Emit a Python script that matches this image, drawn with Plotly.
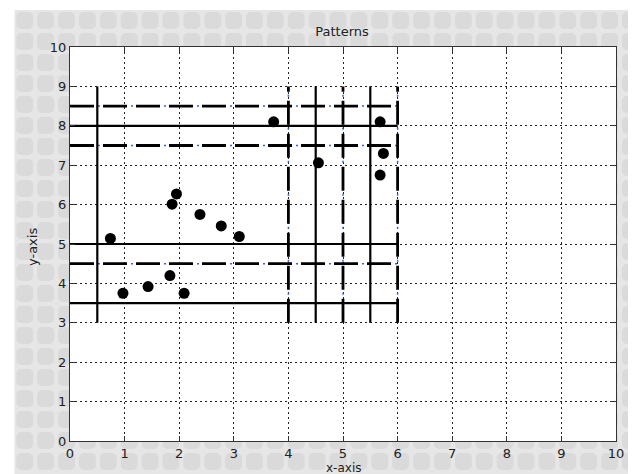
import base64
import plotly.graph_objects as go

# ---- data ----
x_points = [0.74, 0.97, 1.43, 1.83, 2.09, 1.87, 1.95, 2.38, 2.77, 3.10, 3.73, 4.55, 5.68, 5.74, 5.68]
y_points = [5.14, 3.75, 3.92, 4.20, 3.75, 6.01, 6.27, 5.75, 5.46, 5.19, 8.10, 7.06, 8.10, 7.30, 6.75]

vertical_solid_x = [0.5, 4.5, 5.5]
vertical_dashed_x = [4, 5, 6]
horizontal_solid_y = [3.5, 5, 8]
horizontal_dashed_y = [4.5, 7.5, 8.5]
vertical_span = [3, 9]
horizontal_span = [0, 6]
tick_values = list(range(0, 11))

FONT = "DejaVu Sans"


def vlines(xs, span):
    px, py = [], []
    for x in xs:
        px += [x, x, None]
        py += [span[0], span[1], None]
    return px, py


def hlines(ys, span):
    px, py = [], []
    for y in ys:
        px += [span[0], span[1], None]
        py += [y, y, None]
    return px, py


fig = go.Figure()

# blue dots inside gaps of dashed lines
for fn, vals, span in [(vlines, vertical_dashed_x, vertical_span), (hlines, horizontal_dashed_y, horizontal_span)]:
    px, py = fn(vals, span)
    fig.add_trace(go.Scatter(x=px, y=py, mode="lines", hoverinfo="skip",
                             line=dict(color="#3a5cff", width=1.5, dash="0px,28px,2px,3px")))

# dashed black lines
for fn, vals, span in [(vlines, vertical_dashed_x, vertical_span), (hlines, horizontal_dashed_y, horizontal_span)]:
    px, py = fn(vals, span)
    fig.add_trace(go.Scatter(x=px, y=py, mode="lines", hoverinfo="skip",
                             line=dict(color="black", width=2.8, dash="24px,9px")))

# solid black lines
for fn, vals, span in [(vlines, vertical_solid_x, vertical_span), (hlines, horizontal_solid_y, horizontal_span)]:
    px, py = fn(vals, span)
    fig.add_trace(go.Scatter(x=px, y=py, mode="lines", hoverinfo="skip",
                             line=dict(color="black", width=2.2)))

# points
fig.add_trace(go.Scatter(x=x_points, y=y_points, mode="markers",
                         marker=dict(color="black", size=11, line=dict(width=0))))

# page has an 8px body margin: size the figure so it fills the window exactly
OFF = 8
W, H = 636 - OFF, 474 - OFF
L, R, T, B = 70 - OFF, 17, 47 - OFF, 33
pw, ph = W - L - R, H - T - B

gx0, gy0 = 14 - OFF, 10 - OFF  # where the grey window background starts
svg_w, svg_h = W - gx0, H - gy0
svg = (
    f'<svg xmlns="http://www.w3.org/2000/svg" width="{svg_w}" height="{svg_h}">'
    '<defs><pattern id="p" width="21" height="21" patternUnits="userSpaceOnUse">'
    '<rect width="21" height="21" fill="#e6e6e6"/>'
    '<rect x="2" y="2" width="17" height="17" rx="5" fill="#dadada"/>'
    '</pattern></defs>'
    f'<rect width="{svg_w}" height="{svg_h}" fill="url(#p)"/></svg>'
)
src = "data:image/svg+xml;base64," + base64.b64encode(svg.encode()).decode()

fig.add_layout_image(dict(
    source=src, xref="paper", yref="paper",
    x=(gx0 - L) / pw, y=(H - B - gy0) / ph,
    sizex=svg_w / pw, sizey=svg_h / ph,
    xanchor="left", yanchor="top", sizing="stretch", layer="below",
))
fig.add_shape(type="rect", xref="paper", yref="paper", x0=0, x1=1, y0=0, y1=1,
              fillcolor="white", line=dict(width=0), layer="below")

axis_common = dict(
    range=[0, 10], tickvals=tick_values, ticktext=[str(v) for v in tick_values],
    showgrid=True, gridcolor="#222", gridwidth=1, griddash="2px,3px",
    zeroline=False, showline=True, linecolor="#333", linewidth=1, mirror="ticks",
    ticks="inside", ticklen=5, tickcolor="#333",
    tickfont=dict(family=FONT, size=13, color="#222"),
)

fig.update_layout(
    width=W, height=H,
    margin=dict(l=L, r=R, t=T, b=B),
    paper_bgcolor="white", plot_bgcolor="white",
    showlegend=False,
    xaxis=dict(**axis_common),
    yaxis=dict(**axis_common),
    title=dict(text="Patterns", x=(342 - OFF) / W, xanchor="center", y=1 - (31 - OFF) / H,
               yanchor="middle", font=dict(family=FONT, size=13, color="#222")),
    annotations=[
        dict(text="x-axis", xref="paper", yref="paper", x=0.5, y=0, xanchor="center",
             yanchor="middle", yshift=-26.5, showarrow=False,
             font=dict(family=FONT, size=12, color="#222")),
        dict(text="y-axis", xref="paper", yref="paper", x=0, y=0.5, xanchor="center",
             yanchor="middle", xshift=-38, yshift=-3, textangle=-90, showarrow=False,
             font=dict(family=FONT, size=13, color="#222")),
    ],
)

fig.write_html("out.html")
